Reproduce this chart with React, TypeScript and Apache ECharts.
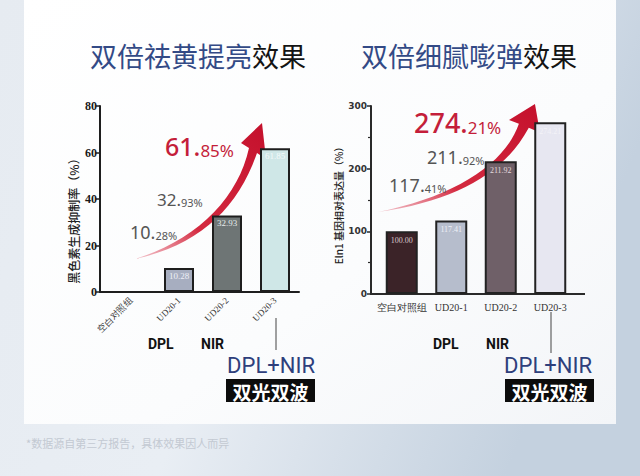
import React, { useEffect, useRef } from 'react';
import * as echarts from 'echarts';

// ---- data ----
const categories = ['空白对照组', 'UD20-1', 'UD20-2', 'UD20-3'];
const leftValues = [0, 10.28, 32.93, 61.85];
const rightValues = [100.0, 117.41, 211.92, 274.21];
const leftColors = ['#ffffff', '#a7aec0', '#6e7575', '#cfe7e7'];
const rightColors = ['#3b2328', '#b6bdcc', '#6f6068', '#e7e7f1'];
const leftLabelColors = ['#ffffff', '#eef0f6', '#e6ecec', '#f4fafa'];
const rightLabelColors = ['#d9c9cc', '#eef0f6', '#e3dadd', '#f3f3f8'];
const leftTitle = ['双倍祛黄提亮', '效果'];
const rightTitle = ['双倍细腻嘭弹', '效果'];
const leftAxisName = '黑色素生成抑制率（%）';
const rightAxisName = 'Eln1 基因相对表达量（%）';
const groupLabels = ['DPL', 'NIR', 'DPL+NIR', '双光双波'];
const footnote = '*数据源自第三方报告，具体效果因人而异';

const ARROW_D =
  'M0,136 C65,122 103,85 122,30 L131,36 L127,0 L106,20 L114,25 C103,75 62,117 0,136 Z';

const SANS = 'Noto Sans, Noto Sans CJK SC, sans-serif';
const CJK = 'Noto Sans CJK SC, sans-serif';
const SERIF = 'Liberation Serif, DejaVu Serif, serif';

function splitPct(v: number) {
  const s = v.toFixed(2).split('.');
  return { a: s[0] + '.', b: s[1] + '%' };
}

function pctText(v: number, x: number, y: number, big: number, small: number, color: string, weight: any) {
  const p = splitPct(v);
  return {
    type: 'text',
    x,
    y,
    style: {
      text: `{a|${p.a}}{b|${p.b}}`,
      align: 'left',
      verticalAlign: 'middle',
      textAlign: 'left',
      textVerticalAlign: 'middle',
      rich: {
        a: { fontSize: big, fontFamily: SANS, fontWeight: weight, fill: color, color, lineHeight: big, verticalAlign: 'bottom' },
        b: { fontSize: small, fontFamily: SANS, fontWeight: 'normal', fill: color, color, lineHeight: big * 0.86, verticalAlign: 'bottom' },
      },
    },
  };
}

function txt(text: string, x: number, y: number, size: number, color: string, opts: any = {}) {
  return {
    type: 'text',
    x,
    y,
    rotation: opts.rotation || 0,
    style: {
      text,
      fill: color,
      fontSize: size,
      fontFamily: opts.family || SANS,
      fontWeight: opts.weight || 'normal',
      align: opts.align || 'left',
      verticalAlign: 'middle',
      textAlign: opts.align || 'left',
      textVerticalAlign: 'middle',
    },
  };
}

function line(x1: number, y1: number, x2: number, y2: number, color: string, w: number) {
  return { type: 'line', shape: { x1, y1, x2, y2 }, style: { stroke: color, lineWidth: w } };
}

const arrowFill = {
  type: 'linear',
  x: 0,
  y: 1,
  x2: 1,
  y2: 0,
  colorStops: [
    { offset: 0, color: 'rgba(225,90,110,0.35)' },
    { offset: 0.35, color: '#d42a40' },
    { offset: 1, color: '#c4102c' },
  ],
};

export default function App() {
  const ref = useRef<HTMLDivElement>(null);
  useEffect(() => {
    document.body.style.margin = '0';
    if (!ref.current) return;
    try {
      echarts.graphic.registerShape('arrowShape', echarts.graphic.extendPath(ARROW_D, {}));
    } catch (e) {}
    const chart = echarts.init(ref.current, null, { renderer: 'svg' });

    const barData = (vals: number[], colors: string[], labelColors: string[]) =>
      vals.map((v, i) => ({
        value: v,
        itemStyle: { color: colors[i] },
        label: { color: labelColors[i] },
      }));

    const titleRich = {
      b: { fontSize: 27, fontFamily: CJK, fontWeight: 'normal', fill: '#334a86', color: '#334a86' },
      k: { fontSize: 27, fontFamily: CJK, fontWeight: 'normal', fill: '#141414', color: '#141414' },
    };

    const option: any = {
      animation: false,
      backgroundColor: {
        type: 'linear',
        x: 0,
        y: 0,
        x2: 1,
        y2: 0.3,
        colorStops: [
          { offset: 0, color: '#e6ebf1' },
          { offset: 0.5, color: '#e9eef4' },
          { offset: 1, color: '#c4d1df' },
        ],
      },
      grid: [
        { left: 107, top: 106, width: 192, height: 186 },
        { left: 377, top: 106, width: 198, height: 188 },
      ],
      xAxis: [
        {
          type: 'category',
          gridIndex: 0,
          data: categories,
          axisLine: { lineStyle: { color: '#1e1e1e', width: 2 } },
          axisTick: { alignWithLabel: true, length: 4, lineStyle: { color: '#1e1e1e', width: 1.5 } },
          axisLabel: { interval: 0, rotate: 45, fontSize: 9, fontFamily: SERIF, color: '#333', margin: 7 },
        },
        {
          type: 'category',
          gridIndex: 1,
          data: categories,
          axisLine: { lineStyle: { color: '#2a2a2a', width: 2 } },
          axisTick: { alignWithLabel: true, length: 4, lineStyle: { color: '#2a2a2a', width: 1.5 } },
          axisLabel: { interval: 0, fontSize: 10, fontFamily: SERIF, color: '#333', margin: 8 },
        },
      ],
      yAxis: [
        {
          type: 'value',
          gridIndex: 0,
          min: 0,
          max: 80,
          interval: 20,
          offset: 7,
          splitLine: { show: false },
          axisLine: { show: true, lineStyle: { color: '#1e1e1e', width: 2 } },
          axisTick: { show: true, length: 4, lineStyle: { color: '#1e1e1e', width: 1.5 } },
          axisLabel: { fontSize: 12, fontFamily: SERIF, fontWeight: 'bold', color: '#1a1a1a', margin: 3 },
        },
        {
          type: 'value',
          gridIndex: 1,
          min: 0,
          max: 300,
          interval: 100,
          offset: 6,
          splitLine: { show: false },
          axisLine: { show: true, lineStyle: { color: '#2a2a2a', width: 2 } },
          axisTick: { show: true, length: 4, lineStyle: { color: '#2a2a2a', width: 1.5 } },
          minorTick: { show: true, splitNumber: 2, length: 3, lineStyle: { color: '#2a2a2a', width: 1.2 } },
          axisLabel: { fontSize: 9, fontFamily: 'DejaVu Sans, sans-serif', fontWeight: 'bold', color: '#333', margin: 4 },
        },
      ],
      series: [
        {
          type: 'bar',
          xAxisIndex: 0,
          yAxisIndex: 0,
          barWidth: 30,
          data: barData(leftValues, leftColors, leftLabelColors),
          itemStyle: { borderColor: '#1e1e1e', borderWidth: 2 },
          label: {
            show: true,
            position: 'insideTop',
            distance: 3,
            fontSize: 9,
            fontFamily: SERIF,
            formatter: (p: any) => (p.value > 0 ? p.value.toFixed(2) : ''),
          },
        },
        {
          type: 'bar',
          xAxisIndex: 1,
          yAxisIndex: 1,
          barWidth: 32,
          data: barData(rightValues, rightColors, rightLabelColors),
          itemStyle: { borderColor: '#222', borderWidth: 2 },
          label: {
            show: true,
            position: 'insideTop',
            distance: 5,
            fontSize: 8,
            fontFamily: SERIF,
            formatter: (p: any) => p.value.toFixed(2),
          },
        },
      ],
      graphic: [
        {
          type: 'rect',
          z: -10,
          shape: { x: 24, y: 0, width: 592, height: 424 },
          style: {
            fill: {
              type: 'linear',
              x: 0,
              y: 0,
              x2: 1,
              y2: 1,
              colorStops: [
                { offset: 0, color: '#ffffff' },
                { offset: 0.6, color: '#fbfcfd' },
                { offset: 1, color: '#f3f5f8' },
              ],
            },
          },
        },
        // titles
        {
          type: 'text',
          x: 90,
          y: 55,
          style: {
            text: `{b|${leftTitle[0]}}{k|${leftTitle[1]}}`,
            verticalAlign: 'middle',
            textVerticalAlign: 'middle',
            rich: titleRich,
          },
        },
        {
          type: 'text',
          x: 361,
          y: 55,
          style: {
            text: `{b|${rightTitle[0]}}{k|${rightTitle[1]}}`,
            verticalAlign: 'middle',
            textVerticalAlign: 'middle',
            rich: titleRich,
          },
        },
        // axis names
        txt(leftAxisName, 73, 218, 12, '#222', { rotation: Math.PI / 2, align: 'center', family: 'Noto Sans CJK SC, serif', weight: 500 }),
        txt(rightAxisName, 338, 203, 10, '#222', { rotation: Math.PI / 2, align: 'center', family: 'Noto Sans CJK SC, serif', weight: 500 }),
        // patch axis lines
        line(99, 292, 108, 292, '#1e1e1e', 2),
        line(370, 294, 378, 294, '#2a2a2a', 2),
        line(574, 294, 585, 294, '#2a2a2a', 2),
        // arrows
        { type: 'arrowShape', x: 135, y: 123, scaleX: 1, scaleY: 1, style: { fill: arrowFill } },
        { type: 'arrowShape', x: 378, y: 104, scaleX: 157 / 127, scaleY: 108 / 136, style: { fill: arrowFill } },
        // percentage labels
        pctText(leftValues[3], 165, 146, 25, 17, '#c41e3a', 500),
        pctText(leftValues[2], 157, 199, 17, 11, '#555', 'normal'),
        pctText(leftValues[1], 130, 232, 18, 11, '#555', 'normal'),
        pctText(rightValues[3], 414, 122, 27, 17, '#c41e3a', 500),
        pctText(rightValues[2], 427, 157, 18, 11, '#555', 'normal'),
        pctText(rightValues[1], 389, 185, 18, 11, '#555', 'normal'),
        // group labels left
        txt(groupLabels[0], 148, 344, 14, '#111', { family: 'Roboto, sans-serif', weight: 'bold' }),
        txt(groupLabels[1], 201, 344, 14, '#111', { family: 'Roboto, sans-serif', weight: 'bold' }),
        line(276, 318, 276, 350, '#444', 1),
        txt(groupLabels[2], 271, 365, 22, '#2e3f7c', { family: 'Roboto, sans-serif', align: 'center' }),
        { type: 'rect', shape: { x: 226, y: 379, width: 89, height: 23 }, style: { fill: '#0c0c0c' } },
        txt(groupLabels[3], 270.5, 391, 19, '#ffffff', { family: CJK, weight: 'bold', align: 'center' }),
        // group labels right
        txt(groupLabels[0], 433, 344, 14, '#111', { family: 'Roboto, sans-serif', weight: 'bold' }),
        txt(groupLabels[1], 486, 344, 14, '#111', { family: 'Roboto, sans-serif', weight: 'bold' }),
        line(551, 312, 551, 353, '#444', 1),
        txt(groupLabels[2], 548, 365, 22, '#2e3f7c', { family: 'Roboto, sans-serif', align: 'center' }),
        { type: 'rect', shape: { x: 505, y: 379, width: 89, height: 23 }, style: { fill: '#0c0c0c' } },
        txt(groupLabels[3], 549.5, 391, 19, '#ffffff', { family: CJK, weight: 'bold', align: 'center' }),
        // footnote
        txt(footnote, 26, 443, 11, '#c3c9d2', { family: CJK }),
      ],
    };
    chart.setOption(option);
    return () => chart.dispose();
  }, []);
  return <div ref={ref} style={{ width: 640, height: 476 }} />;
}
